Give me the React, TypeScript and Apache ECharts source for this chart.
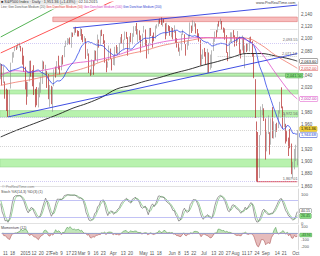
import React, { useEffect, useRef } from "react";
import * as echarts from "echarts";

type Bar = [number, number, number, number, number]; // day, open, high, low, close

// 20 sessions before the first visible candle (high, low, close) – used for indicator warm-up
const priorBars: [number, number, number][] = [
  [2038.7, 2030.2, 2038.3], [2041.3, 2035.6, 2039.7], [2040.3, 2031.3, 2038.3], [2046.2, 2030.4, 2039.8],
  [2041.3, 2035.3, 2039.8], [2043.1, 2030.2, 2041.3], [2056.1, 2041.4, 2051.8], [2051.6, 2040.2, 2048.7],
  [2053.0, 2034.4, 2052.8], [2071.5, 2056.8, 2063.5], [2070.2, 2065.1, 2069.4], [2074.2, 2064.8, 2067.0],
  [2073.4, 2066.7, 2072.8], [2075.8, 2065.1, 2067.6], [2065.1, 2049.6, 2053.4], [2068.4, 2053.9, 2066.6],
  [2076.3, 2067.0, 2074.3], [2077.3, 2062.3, 2071.9], [2079.5, 2070.2, 2075.4], [2076.3, 2050.9, 2060.3],
];

const dec2014: Bar[] = [
  [9, 2056.0, 2060.6, 2034.2, 2059.8], [10, 2058.9, 2058.9, 2024.3, 2026.1], [11, 2027.9, 2055.5, 2027.9, 2035.3],
  [12, 2030.4, 2030.4, 2002.3, 2002.3], [15, 2005.0, 2018.7, 1982.3, 1989.6], [16, 1986.7, 2016.9, 1972.6, 1972.7],
  [17, 1973.8, 2016.8, 1973.8, 2012.9], [18, 2018.9, 2061.2, 2018.9, 2061.2], [19, 2061.0, 2077.9, 2061.0, 2070.7],
  [22, 2069.3, 2078.8, 2069.3, 2078.5], [23, 2081.5, 2086.7, 2079.8, 2082.2], [24, 2083.3, 2087.6, 2081.9, 2081.9],
  [26, 2084.3, 2092.7, 2084.3, 2088.8], [29, 2087.6, 2093.6, 2085.8, 2090.6], [30, 2088.5, 2088.5, 2079.5, 2080.4],
  [31, 2082.1, 2085.6, 2057.9, 2058.9],
];
const jan2015: Bar[] = [
  [2, 2058.9, 2072.4, 2046.0, 2058.2], [5, 2054.4, 2054.4, 2017.3, 2020.6], [6, 2022.2, 2030.3, 1992.4, 2002.6],
  [7, 2005.6, 2029.6, 2005.6, 2025.9], [8, 2030.6, 2064.1, 2030.6, 2062.1], [9, 2063.5, 2064.4, 2038.3, 2044.8],
  [12, 2046.1, 2049.3, 2022.6, 2028.3], [13, 2031.6, 2056.9, 2008.3, 2023.0], [14, 2018.4, 2018.4, 1988.4, 2011.3],
  [15, 2013.8, 2021.4, 1991.5, 1992.7], [16, 1992.3, 2020.5, 1988.1, 2019.4], [20, 2020.8, 2028.9, 2004.5, 2022.6],
  [21, 2020.2, 2038.3, 2012.0, 2032.1], [22, 2034.3, 2064.6, 2026.4, 2063.2], [23, 2063.0, 2063.0, 2050.5, 2051.8],
  [26, 2050.4, 2057.6, 2041.0, 2057.1], [27, 2047.9, 2047.9, 2019.9, 2029.6], [28, 2032.3, 2042.5, 2001.5, 2002.2],
  [29, 2002.5, 2024.6, 1989.2, 2021.3], [30, 2019.4, 2023.3, 1993.4, 1995.0],
];
const feb2015: Bar[] = [
  [2, 1996.7, 2021.7, 1980.9, 2020.9], [3, 2022.7, 2050.3, 2022.7, 2050.0], [4, 2048.9, 2054.7, 2036.7, 2041.5],
  [5, 2043.5, 2063.6, 2043.5, 2062.5], [6, 2062.3, 2072.4, 2050.0, 2055.5], [9, 2053.5, 2056.2, 2041.9, 2046.7],
  [10, 2049.4, 2070.9, 2048.6, 2068.6], [11, 2068.6, 2073.5, 2058.0, 2068.5], [12, 2070.0, 2088.5, 2070.0, 2088.5],
  [13, 2088.8, 2097.0, 2086.7, 2097.0], [17, 2096.5, 2101.3, 2089.8, 2100.3], [18, 2099.2, 2100.2, 2092.2, 2099.7],
  [19, 2099.3, 2102.1, 2090.8, 2097.5], [20, 2097.7, 2110.6, 2085.4, 2110.3], [23, 2109.8, 2110.1, 2103.0, 2109.7],
  [24, 2109.1, 2117.9, 2105.9, 2115.5], [25, 2115.3, 2119.6, 2109.9, 2113.9], [26, 2113.9, 2113.9, 2103.8, 2110.7],
  [27, 2110.9, 2112.7, 2103.8, 2104.5],
];
const mar2015: Bar[] = [
  [2, 2105.2, 2117.5, 2104.5, 2117.4], [3, 2115.8, 2115.8, 2098.3, 2107.8], [4, 2107.7, 2107.7, 2094.5, 2098.5],
  [5, 2098.5, 2104.3, 2095.2, 2101.0], [6, 2100.9, 2100.9, 2067.3, 2071.3], [9, 2072.3, 2083.5, 2072.2, 2079.4],
  [10, 2076.1, 2076.1, 2044.2, 2044.2], [11, 2044.7, 2050.1, 2039.7, 2040.2], [12, 2041.1, 2066.4, 2041.1, 2066.0],
  [13, 2064.6, 2064.6, 2041.2, 2053.4], [16, 2055.4, 2081.4, 2055.4, 2081.2], [17, 2080.6, 2080.6, 2065.1, 2074.3],
  [18, 2072.8, 2106.9, 2061.2, 2099.5], [19, 2098.7, 2098.7, 2085.6, 2089.3], [20, 2090.3, 2113.9, 2090.3, 2108.1],
  [23, 2108.0, 2114.9, 2104.4, 2104.4], [24, 2103.9, 2107.6, 2091.5, 2091.5], [25, 2093.1, 2097.4, 2061.1, 2061.1],
  [26, 2059.9, 2067.2, 2045.5, 2056.2], [27, 2055.8, 2062.8, 2053.0, 2061.0], [30, 2064.1, 2089.0, 2064.1, 2086.2],
  [31, 2084.1, 2084.1, 2067.0, 2067.9],
];
const apr2015: Bar[] = [
  [1, 2067.6, 2067.6, 2048.4, 2059.7], [2, 2060.0, 2072.2, 2057.3, 2067.0], [6, 2064.9, 2087.0, 2056.5, 2080.6],
  [7, 2080.8, 2089.8, 2076.1, 2076.3], [8, 2076.9, 2086.7, 2073.3, 2081.9], [9, 2081.3, 2093.3, 2074.3, 2091.2],
  [10, 2091.5, 2102.6, 2091.5, 2102.1], [13, 2102.0, 2107.7, 2092.3, 2092.4], [14, 2092.3, 2098.6, 2083.2, 2095.8],
  [15, 2097.8, 2111.9, 2097.8, 2106.6], [16, 2105.0, 2111.3, 2100.0, 2105.0], [17, 2102.6, 2102.6, 2072.4, 2081.2],
  [20, 2084.1, 2103.9, 2084.1, 2100.4], [21, 2102.8, 2109.6, 2094.4, 2097.3], [22, 2098.3, 2109.0, 2091.1, 2108.0],
  [23, 2107.2, 2120.5, 2103.2, 2112.9], [24, 2112.8, 2120.9, 2112.8, 2117.7], [27, 2119.3, 2125.9, 2107.0, 2108.9],
  [28, 2108.4, 2116.0, 2094.9, 2114.8], [29, 2112.5, 2113.7, 2097.4, 2106.9], [30, 2105.5, 2105.5, 2077.6, 2085.5],
];
const may2015: Bar[] = [
  [1, 2087.4, 2108.4, 2087.4, 2108.3], [4, 2110.2, 2121.0, 2110.2, 2114.5], [5, 2112.6, 2115.2, 2088.5, 2089.5],
  [6, 2091.3, 2098.4, 2067.9, 2080.2], [7, 2080.0, 2092.9, 2075.0, 2088.0], [8, 2092.1, 2117.7, 2092.1, 2116.1],
  [11, 2115.6, 2117.7, 2104.6, 2105.3], [12, 2102.9, 2105.1, 2085.6, 2099.9], [13, 2099.6, 2110.2, 2096.0, 2098.5],
  [14, 2100.4, 2121.5, 2100.4, 2121.1], [15, 2122.1, 2123.9, 2116.8, 2122.7], [18, 2121.3, 2131.8, 2120.0, 2129.2],
  [19, 2129.5, 2133.0, 2124.5, 2127.8], [20, 2127.8, 2134.7, 2122.6, 2125.9], [21, 2125.6, 2131.4, 2120.0, 2130.8],
  [22, 2130.4, 2132.2, 2126.1, 2126.1], [26, 2125.3, 2125.3, 2099.2, 2104.2], [27, 2105.1, 2126.2, 2105.1, 2123.5],
  [28, 2122.3, 2122.3, 2112.8, 2120.8], [29, 2120.7, 2120.7, 2104.9, 2107.4],
];
const jun2015: Bar[] = [
  [1, 2108.6, 2119.2, 2102.5, 2111.7], [2, 2110.4, 2117.6, 2099.1, 2109.6], [3, 2110.6, 2121.9, 2109.6, 2114.1],
  [4, 2112.4, 2112.9, 2093.2, 2095.8], [5, 2095.1, 2101.0, 2085.7, 2092.8], [8, 2092.3, 2093.0, 2079.1, 2079.3],
  [9, 2079.1, 2085.7, 2072.1, 2080.2], [10, 2081.1, 2108.5, 2081.1, 2105.2], [11, 2106.2, 2115.0, 2106.2, 2108.9],
  [12, 2107.4, 2107.4, 2091.3, 2094.1], [15, 2091.3, 2091.3, 2072.5, 2084.4], [16, 2084.3, 2097.4, 2082.1, 2096.3],
  [17, 2097.4, 2106.8, 2088.9, 2100.4], [18, 2101.6, 2126.7, 2101.6, 2121.2], [19, 2121.1, 2121.6, 2109.5, 2110.0],
  [22, 2112.5, 2129.9, 2112.5, 2122.9], [23, 2123.2, 2128.0, 2119.9, 2124.2], [24, 2123.7, 2125.1, 2108.6, 2108.6],
  [25, 2110.0, 2116.0, 2101.8, 2102.3], [26, 2102.6, 2108.9, 2095.4, 2101.5], [29, 2098.6, 2098.6, 2056.6, 2057.6],
  [30, 2061.2, 2074.3, 2056.3, 2063.1],
];
const jul2015: Bar[] = [
  [1, 2067.0, 2082.8, 2067.0, 2077.4], [2, 2078.0, 2085.1, 2071.0, 2076.8], [6, 2074.0, 2078.6, 2058.4, 2068.8],
  [7, 2069.5, 2083.7, 2044.0, 2081.3], [8, 2077.7, 2077.7, 2044.5, 2046.7], [9, 2049.7, 2074.3, 2049.7, 2051.3],
  [10, 2052.7, 2081.3, 2052.7, 2076.6], [13, 2080.0, 2100.7, 2080.0, 2099.6], [14, 2099.7, 2112.0, 2095.0, 2109.0],
  [15, 2109.0, 2114.1, 2102.5, 2107.4], [16, 2110.6, 2124.4, 2110.6, 2124.3], [17, 2126.8, 2128.6, 2119.9, 2126.6],
  [20, 2126.9, 2132.8, 2123.7, 2128.3], [21, 2127.6, 2128.9, 2115.4, 2119.2], [22, 2118.2, 2118.5, 2110.0, 2114.2],
  [23, 2114.2, 2116.9, 2098.6, 2102.2], [24, 2102.2, 2106.0, 2077.1, 2079.7], [27, 2078.2, 2078.2, 2063.5, 2067.6],
  [28, 2070.8, 2095.6, 2069.1, 2093.3], [29, 2094.1, 2110.6, 2094.1, 2108.6], [30, 2106.8, 2110.5, 2094.1, 2108.6],
  [31, 2111.6, 2114.2, 2102.1, 2103.8],
];
const aug2015: Bar[] = [
  [3, 2104.5, 2105.7, 2087.3, 2098.0], [4, 2097.7, 2102.5, 2088.6, 2093.3], [5, 2095.3, 2112.7, 2095.3, 2099.8],
  [6, 2100.1, 2103.3, 2075.5, 2083.6], [7, 2082.6, 2082.6, 2067.9, 2077.6], [10, 2081.0, 2105.4, 2081.0, 2104.2],
  [11, 2102.7, 2102.7, 2076.5, 2084.1], [12, 2081.1, 2089.1, 2052.1, 2086.1], [13, 2086.2, 2092.9, 2078.3, 2083.4],
  [14, 2083.2, 2092.5, 2080.6, 2091.5], [17, 2089.7, 2102.9, 2079.3, 2102.4], [18, 2102.0, 2103.5, 2094.1, 2096.9],
  [19, 2095.7, 2096.2, 2070.5, 2079.6], [20, 2076.6, 2076.6, 2035.7, 2035.7], [21, 2034.1, 2034.1, 1970.9, 1970.9],
  [24, 1965.2, 1965.2, 1867.0, 1893.2], [25, 1898.1, 1948.0, 1867.1, 1867.6], [26, 1872.8, 1943.1, 1872.8, 1940.5],
  [27, 1942.8, 1989.6, 1942.8, 1987.7], [28, 1986.1, 1993.5, 1975.2, 1988.9], [31, 1986.7, 1986.7, 1966.0, 1972.2],
];
const sep2015: Bar[] = [
  [1, 1970.1, 1970.1, 1903.1, 1913.9], [2, 1916.5, 1948.9, 1916.5, 1948.9], [3, 1950.8, 1975.0, 1944.7, 1951.1],
  [4, 1947.8, 1947.8, 1911.2, 1921.2], [8, 1927.3, 1970.4, 1927.3, 1969.4], [9, 1971.5, 1988.6, 1937.9, 1942.0],
  [10, 1941.6, 1965.3, 1937.2, 1952.3], [11, 1951.5, 1961.1, 1939.2, 1961.1], [14, 1963.1, 1963.1, 1948.3, 1953.0],
  [15, 1955.1, 1983.2, 1954.3, 1978.1], [16, 1978.0, 1997.3, 1977.9, 1995.3], [17, 1995.3, 2020.9, 1986.7, 1990.2],
  [18, 1989.7, 1989.7, 1953.5, 1958.0], [21, 1960.8, 1979.6, 1955.8, 1967.0], [22, 1961.4, 1961.4, 1929.2, 1942.7],
  [23, 1943.2, 1949.5, 1932.6, 1938.8], [24, 1932.2, 1938.9, 1908.9, 1932.2], [25, 1935.9, 1952.9, 1921.5, 1931.3],
  [28, 1929.2, 1929.2, 1879.2, 1881.8], [29, 1881.9, 1899.5, 1871.9, 1884.1], [30, 1887.1, 1920.5, 1887.1, 1920.0],
];
const oct2015: Bar[] = [
  [1, 1919.7, 1927.2, 1900.7, 1923.8], [2, 1921.8, 1951.4, 1893.7, 1951.36],
];

const sampleIdx = [0, 10, 20, 30, 40, 50, 60, 70, 80, 90, 100, 110, 120, 130, 140, 150, 160, 170, 180, 190, 200, 205];
const ma50Read = [2040, 2048, 2046, 2049, 2054, 2060, 2063, 2067, 2073, 2081, 2088, 2094, 2098, 2101, 2102, 2101, 2101, 2098, 2077, 2044, 2013, 2002];
const ma100Read = [2024, 2029, 2033, 2038, 2042, 2047, 2054, 2063, 2070, 2076, 2081, 2088, 2093, 2097, 2101, 2102, 2102, 2101, 2090, 2073, 2059, 2052];
const ma200Read = [1940, 1950, 1959, 1968, 1977, 1987, 1995, 2005, 2018, 2024, 2031, 2037, 2044, 2050, 2057, 2063, 2070, 2076, 2076, 2072, 2067, 2063.6];

// Hand-drawn lines: [session index, price]
const greenTrend: [number, number][] = [[0, 2103], [48, 2163]];
const redTrend: [number, number][] = [[0, 2077], [79, 2163]];
const blueUpper: [number, number][] = [[50, 2117.7], [205, 2155]];
const blueLower: [number, number][] = [[5, 1972.6], [205, 2076]];
const supportLine: [number, number][] = [[177, 1867.01], [205, 1867.01]];

const greenZones: [number, number][] = [[2039, 2044], [2010, 2016.5], [1972.5, 1983], [1891, 1904]];
const redZone: [number, number] = [2128, 2135.5];

// axis labels hidden behind value tags
const hiddenPriceLabels = [2160, 2060, 2000, 1940];

const xTicks: [string, string][] = [
  ["2014-12-11", "11"], ["2014-12-18", "18"], ["2015-01-02", "2015"], ["2015-01-12", "12"], ["2015-01-20", "20"],
  ["2015-01-27", "27"], ["2015-02-02", "Feb"], ["2015-02-09", "9"], ["2015-02-17", "17"], ["2015-02-23", "23"],
  ["2015-03-02", "Mar"], ["2015-03-09", "9"], ["2015-03-16", "16"], ["2015-03-23", "23"], ["2015-04-01", "Apr"],
  ["2015-04-13", "13"], ["2015-04-20", "20"], ["2015-05-01", "May"], ["2015-05-11", "11"], ["2015-05-18", "18"],
  ["2015-06-01", "Jun"], ["2015-06-08", "8"], ["2015-06-15", "15"], ["2015-06-22", "22"], ["2015-07-01", "Jul"],
  ["2015-07-13", "13"], ["2015-07-20", "20"], ["2015-07-27", "27"], ["2015-08-03", "Aug"], ["2015-08-11", "11"],
  ["2015-08-17", "17"], ["2015-08-24", "24"], ["2015-09-01", "Sep"], ["2015-09-14", "14"], ["2015-09-21", "21"],
  ["2015-10-01", "Oct"],
];

const months: [string, Bar[]][] = [
  ["2014-12", dec2014], ["2015-01", jan2015], ["2015-02", feb2015], ["2015-03", mar2015], ["2015-04", apr2015],
  ["2015-05", may2015], ["2015-06", jun2015], ["2015-07", jul2015], ["2015-08", aug2015], ["2015-09", sep2015],
  ["2015-10", oct2015],
];

const fmt0 = (v: number) => v.toLocaleString("en-US", { maximumFractionDigits: 0 });
const fmt2 = (v: number) => v.toLocaleString("en-US", { minimumFractionDigits: 2, maximumFractionDigits: 2 });

export default function App() {
  const ref = useRef<HTMLDivElement>(null);
  useEffect(() => {
    if (!ref.current) return;
    const chart = echarts.init(ref.current, undefined, { renderer: "svg" });

    const dates: string[] = [];
    const bars: Bar[] = [];
    months.forEach(([m, arr]) => arr.forEach((b) => { dates.push(`${m}-${String(b[0]).padStart(2, "0")}`); bars.push(b); }));
    const n = bars.length;
    const P = priorBars.length;
    const H = [...priorBars.map((b) => b[0]), ...bars.map((b) => b[2])];
    const L = [...priorBars.map((b) => b[1]), ...bars.map((b) => b[3])];
    const C = [...priorBars.map((b) => b[2]), ...bars.map((b) => b[4])];

    const ohlc = bars.map((b) => [b[1], b[4], b[3], b[2]]);
    const sma20: number[] = [];
    const mom: number[] = [];
    const rawK: number[] = [];
    for (let t = 0; t < C.length; t++) {
      if (t < 13) { rawK.push(NaN); continue; }
      let hh = -Infinity, ll = Infinity;
      for (let k = t - 13; k <= t; k++) { hh = Math.max(hh, H[k]); ll = Math.min(ll, L[k]); }
      rawK.push(((C[t] - ll) / (hh - ll)) * 100);
    }
    const slowK: number[] = rawK.map((_, t) => (t < 15 ? NaN : (rawK[t] + rawK[t - 1] + rawK[t - 2]) / 3));
    const stK: number[] = [];
    const stD: number[] = [];
    for (let i = 0; i < n; i++) {
      const t = P + i;
      let s = 0;
      for (let k = t - 19; k <= t; k++) s += C[k];
      sma20.push(+(s / 20).toFixed(2));
      mom.push(+(C[t] - C[t - 12]).toFixed(2));
      stK.push(+slowK[t].toFixed(2));
      stD.push(+((slowK[t] + slowK[t - 1] + slowK[t - 2]) / 3).toFixed(2));
    }
    const momPos = mom.map((v) => Math.max(v, 0));
    const momNeg = mom.map((v) => Math.min(v, 0));
    const tickMap = new Map(xTicks);
    const sparse = (vals: number[]) => vals.map((v, k) => [sampleIdx[k], v]);

    const lastClose = C[C.length - 1];
    const tag = (v: number, color: string, bg: string, border: string, fontSize = 4, offsetY = 0) => ({
      yAxis: v,
      lineStyle: { color: "rgba(0,0,0,0)", width: 0 },
      label: {
        show: true, position: "end", distance: 2, formatter: fmt2(v), color, offset: [0, offsetY],
        backgroundColor: bg, borderColor: border, borderWidth: 0.5, padding: [0.3, 1, 0, 1], fontSize,
      },
    });
    const level = (v: number, color: string, text?: string, from?: number) => {
      const lbl = text
        ? { show: true, position: "insideEndTop", distance: 0.5, formatter: text, fontSize: 3.8, color: "#666" }
        : { show: false };
      if (from !== undefined) {
        return [
          { xAxis: dates[from], yAxis: v, lineStyle: { color, width: 0.6, type: [1, 1] }, label: lbl },
          { xAxis: dates[n - 1], yAxis: v },
        ];
      }
      return { yAxis: v, lineStyle: { color, width: 0.6, type: [1, 1] }, label: lbl };
    };

    const lineS = (data: any, color: string, width = 0.8, smooth: boolean | number = false, z = 4) => ({
      type: "line", xAxisIndex: 0, yAxisIndex: 0, data, symbol: "none", smooth, z,
      lineStyle: { color, width }, silent: true,
    });

    const option: any = {
      animation: false,
      backgroundColor: "#ffffff",
      textStyle: { fontFamily: "Liberation Sans, Arial, sans-serif" },
      grid: [
        { left: 0, right: 22, top: 2, height: 184 },
        { left: 0, right: 22, top: 189, height: 34 },
        { left: 0, right: 22, top: 225, height: 25 },
      ],
      xAxis: [0, 1, 2].map((g) => ({
        type: "category", gridIndex: g, data: dates, boundaryGap: true,
        axisTick: { show: false },
        axisLine: { show: true, lineStyle: { color: "#c4c4c4", width: 0.5 } },
        splitLine: { show: false },
        axisLabel: g === 2
          ? {
              show: true, fontSize: 4.5, color: "#555", margin: 1.5,
              interval: (_i: number, v: string) => tickMap.has(v),
              formatter: (v: string) => tickMap.get(v) ?? "",
            }
          : { show: false },
      })),
      yAxis: [
        {
          type: "value", gridIndex: 0, position: "right", min: 1860, max: 2160, interval: 20,
          axisLine: { show: true, lineStyle: { color: "#b4b4b4", width: 0.5 } }, axisTick: { show: false },
          splitLine: { show: false },
          axisLabel: { fontSize: 4.5, color: "#555", margin: 3, formatter: (v: number) => (hiddenPriceLabels.includes(v) ? "" : fmt0(v)) },
        },
        {
          type: "value", gridIndex: 1, position: "right", min: 0, max: 120, interval: 50,
          axisLine: { show: true, lineStyle: { color: "#b4b4b4", width: 0.5 } }, axisTick: { show: false },
          splitLine: { show: false },
          axisLabel: { fontSize: 4.2, color: "#555", margin: 3, formatter: (v: number) => (v === 0 || v === 100 ? String(v) : "") },
        },
        {
          type: "value", gridIndex: 2, position: "right", min: -250, max: 130, interval: 50,
          axisLine: { show: true, lineStyle: { color: "#b4b4b4", width: 0.5 } }, axisTick: { show: false },
          splitLine: { show: false },
          axisLabel: { fontSize: 4, color: "#555", margin: 3, formatter: (v: number) => ([100, -100, -200].includes(v) ? String(v) : "") },
        },
      ],
      series: [
        {
          type: "line", xAxisIndex: 0, yAxisIndex: 0, data: [], z: 1, silent: true,
          markArea: {
            silent: true,
            data: [
              ...greenZones.map(([a, b], k) => [
                { yAxis: a, itemStyle: { color: "#b8f2ae", borderColor: k === 0 ? "#6f9c6a" : "#9ad894", borderWidth: 0.6 } },
                { yAxis: b },
              ]),
              [
                { xAxis: dates[36], yAxis: redZone[0], itemStyle: { color: "#f7bcbc", borderColor: "#e07a7a", borderWidth: 0.6 } },
                { xAxis: dates[n - 1], yAxis: redZone[1] },
              ],
            ],
          },
          markLine: {
            silent: true, symbol: "none",
            data: [
              level(2093.55, "#b4a8ee", "2,093.55"),
              level(2116, "#a8a8a8", undefined, 145),
              level(2071.14, "#a8a8a8", "2,071.14", 150),
              level(1972.56, "#b4a8ee", "1,972.56"),
              level(1951, "#b8b8b8"),
              level(1924, "#b8b8b8"),
              level(1867.01, "#b4a8ee", "1,867.01"),
              {
                yAxis: 2044, lineStyle: { color: "rgba(0,0,0,0)", width: 0 },
                label: {
                  show: true, position: "insideEndTop", distance: -4.6, formatter: fmt2(2041.5), color: "#1f5f1f",
                  backgroundColor: "#86dc80", borderColor: "#5aa055", borderWidth: 0.5, padding: [0.3, 1, 0, 1], fontSize: 3.8,
                },
              },
              tag(ma200Read[ma200Read.length - 1], "#222", "#fff", "#555"),
              tag(ma100Read[ma100Read.length - 1], "#d03030", "#fff", "#e06060"),
              tag(ma50Read[ma50Read.length - 1], "#c030b0", "#fff", "#e050c8"),
              tag(sma20[n - 1], "#2040d0", "#fff", "#2040d0", 3.8, 1.2),
              tag(lastClose, "#000", "#f3d03a", "#c9a300", 3.8, -1),
            ],
          },
        },
        {
          type: "candlestick", xAxisIndex: 0, yAxisIndex: 0, data: ohlc, barWidth: "62%", z: 3, silent: true,
          itemStyle: { color: "#d6d6d6", color0: "#a40000", borderColor: "#8c8c8c", borderColor0: "#a40000", borderWidth: 0.6 },
        },
        lineS(sparse(ma200Read), "#1e1e1e", 0.9, 0.4),
        lineS(sparse(ma100Read), "#f0786a", 0.8, 0.4),
        lineS(sparse(ma50Read), "#e050c8", 0.8, 0.4),
        lineS(sma20, "#3048e8", 0.8, false),
        lineS(greenTrend, "#2aa02a", 0.8),
        lineS(redTrend, "#ff2a2a", 0.8),
        lineS(blueUpper, "#2a3ae0", 0.9),
        lineS(blueLower, "#2a3ae0", 0.9),
        lineS(supportLine, "#e02020", 0.8),
        {
          type: "line", xAxisIndex: 1, yAxisIndex: 1, data: stK, symbol: "none", silent: true,
          lineStyle: { color: "#5a5a5a", width: 0.6 }, z: 4,
          markLine: {
            silent: true, symbol: "none",
            data: [
              { yAxis: 80, lineStyle: { color: "#a8a8f0", width: 0.7, type: "solid" }, label: { show: false } },
              { yAxis: 20, lineStyle: { color: "#a8a8f0", width: 0.7, type: "solid" }, label: { show: false } },
              tag(stK[n - 1], "#333", "#fff", "#777", 3.6, -0.8),
              tag(stD[n - 1], "#1f5f1f", "#86dc80", "#5aa055", 3.6, 0.5),
            ],
          },
        },
        {
          type: "line", xAxisIndex: 1, yAxisIndex: 1, data: stD, symbol: "none", silent: true,
          lineStyle: { color: "#5cb85c", width: 0.6 }, z: 3,
        },
        {
          type: "line", xAxisIndex: 2, yAxisIndex: 2, data: momPos, symbol: "none", silent: true,
          lineStyle: { color: "#3c8c3c", width: 0.5 }, areaStyle: { color: "#a6dca0" }, z: 3,
          markLine: {
            silent: true, symbol: "none",
            data: [
              { yAxis: 0, lineStyle: { color: "#9a9ae6", width: 0.7, type: "solid" }, label: { show: false } },
              tag(mom[n - 1], "#1f5f1f", "#86dc80", "#5aa055", 3.4, -1.2),
            ],
          },
        },
        {
          type: "line", xAxisIndex: 2, yAxisIndex: 2, data: momNeg, symbol: "none", silent: true,
          lineStyle: { color: "#a04040", width: 0.5 }, areaStyle: { color: "#dca0a0" }, z: 3,
        },
      ],
      graphic: [
        { type: "rect", shape: { x: 0, y: 0, width: 78, height: 4.8 }, style: { fill: "rgba(232,232,232,0.95)" }, z: 100 },
        { type: "rect", shape: { x: 0, y: 5, width: 160, height: 4.6 }, style: { fill: "rgba(255,255,255,0.85)" }, z: 100 },
        { type: "text", x: 1, y: 0.4, style: { text: "■ S&P500 Index · Daily · 1,951.36 (+1.43%) · 02.10.2015", fontSize: 3.8, fill: "#333" }, z: 101 },
        {
          type: "text", x: 1, y: 5.5, z: 101,
          style: {
            text: "{a|Line; Gen Donchian Medium (20)} {b|Gen Donchian Medium (50)} {c|Gen Donchian Medium (100)} {d|Gen Donchian Medium (200)}",
            fontSize: 3, fill: "#555",
            rich: {
              a: { fill: "#555", fontSize: 3 },
              b: { fill: "#e03030", fontSize: 3 },
              c: { fill: "#d040c8", fontSize: 3 },
              d: { fill: "#3040d0", fontSize: 3 },
            },
          },
        },
        { type: "text", x: 256, y: 1, style: { text: "www.ProRealTime.com", fontSize: 3.8, fill: "#444" }, z: 101 },
        { type: "text", x: 2, y: 185, style: { text: "© ProRealTime.com", fontSize: 3.6, fill: "#888" }, z: 101 },
        { type: "text", x: 1, y: 189.5, style: { text: "Stoch %K(14,3) %D(3) (1)", fontSize: 3.6, fill: "#444" }, z: 101 },
        { type: "text", x: 1, y: 226, style: { text: "Momentum (12)", fontSize: 3.6, fill: "#444" }, z: 101 },
      ],
    };
    chart.setOption(option);
    return () => chart.dispose();
  }, []);
  return <div ref={ref} style={{ position: "fixed", left: 0, top: 0, width: 320, height: 256 }} />;
}
